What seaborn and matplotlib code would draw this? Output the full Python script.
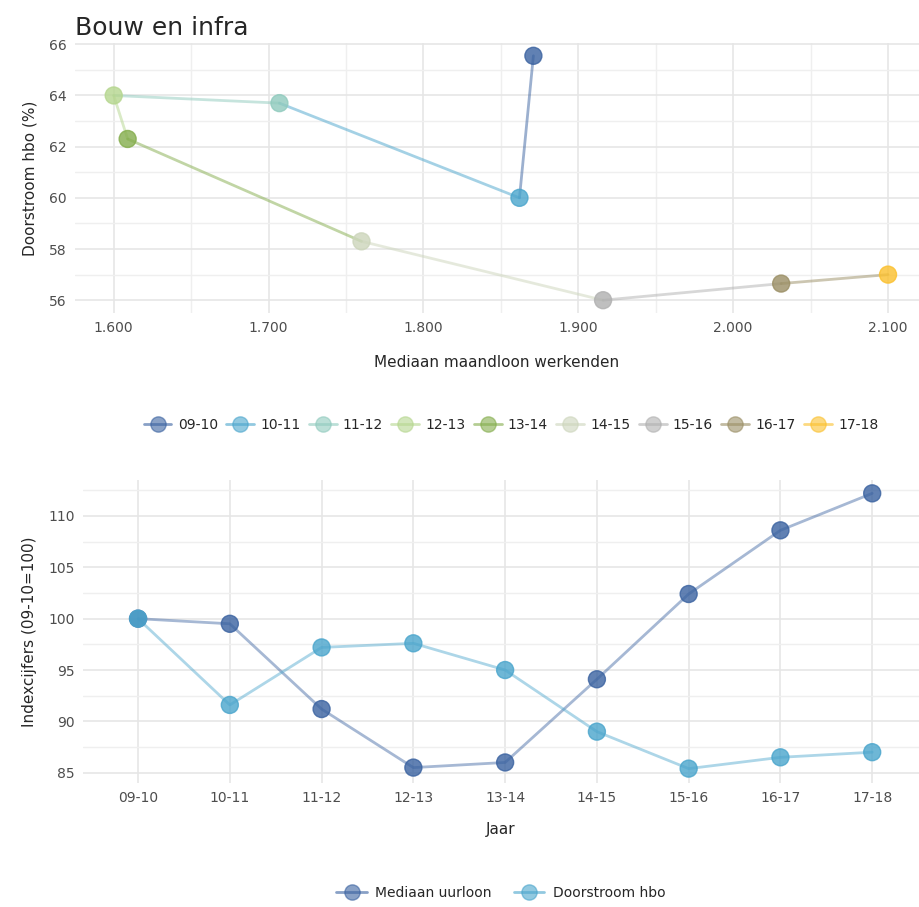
import pandas as pd
import numpy as np
import matplotlib
matplotlib.use("Agg")
import matplotlib.pyplot as plt
import seaborn as sns
from matplotlib.lines import Line2D
from matplotlib.ticker import FuncFormatter, MultipleLocator

# data
jaren = ["09-10", "10-11", "11-12", "12-13", "13-14", "14-15", "15-16", "16-17", "17-18"]
maandloon = [1871, 1862, 1707, 1600, 1609, 1760, 1916, 2031, 2100]
doorstroom = [65.55, 60.0, 63.7, 64.0, 62.3, 58.3, 56.0, 56.65, 57.0]
idx_uurloon = [100, 99.5, 91.2, 85.5, 86.0, 94.1, 102.4, 108.6, 112.2]
idx_doorstroom = [100, 91.6, 97.2, 97.6, 95.0, 89.0, 85.4, 86.5, 87.0]

kleuren = ["#3a62a0", "#4aa5cc", "#8fcabd", "#b5d68e", "#84ad4c",
           "#ccd5bb", "#b0b0b0", "#9a8e64", "#fbc02d"]
pal = dict(zip(jaren, kleuren))
reeks_kleur = {"Mediaan uurloon": "#3a62a0", "Doorstroom hbo": "#4aa5cc"}

sns.set_theme(style="whitegrid")
plt.rcParams["font.family"] = ["DejaVu Sans"]
grid = "#e6e6e6"

fig = plt.figure(figsize=(9.19, 9.07), dpi=100)
W, H = 919, 907
ax1 = fig.add_axes([75 / W, 1 - 313 / H, (919 - 75) / W, (313 - 43) / H])
ax2 = fig.add_axes([83 / W, 1 - 783 / H, (919 - 83) / W, (783 - 480) / H])

# top panel: path through the years, each piece coloured by its start year
pts = pd.DataFrame({"jaar": jaren, "loon": maandloon, "door": doorstroom})
segs = []
for i in range(len(jaren) - 1):
    segs.append({"seg": jaren[i], "loon": maandloon[i], "door": doorstroom[i]})
    segs.append({"seg": jaren[i], "loon": maandloon[i + 1], "door": doorstroom[i + 1]})
segs = pd.DataFrame(segs)

sns.lineplot(data=segs, x="loon", y="door", hue="seg", palette=pal, sort=False,
             estimator=None, lw=2, alpha=0.5, legend=False, ax=ax1)
sns.scatterplot(data=pts, x="loon", y="door", hue="jaar", palette=pal, s=150,
                alpha=0.8, edgecolor=kleuren, linewidth=1, legend=False, ax=ax1, zorder=3)
ax1.set_xlim(1575, 2120)
ax1.set_ylim(55.5, 66.05)
ax1.xaxis.set_major_locator(MultipleLocator(100))
ax1.xaxis.set_minor_locator(MultipleLocator(50))
ax1.yaxis.set_major_locator(MultipleLocator(2))
ax1.yaxis.set_minor_locator(MultipleLocator(1))
ax1.xaxis.set_major_formatter(FuncFormatter(lambda v, p: f"{v/1000:.3f}"))
ax1.set_xlabel("Mediaan maandloon werkenden", fontsize=11, labelpad=14)
ax1.set_ylabel("Doorstroom hbo (%)", fontsize=11, labelpad=8)
ax1.set_title("Bouw en infra", fontsize=18, loc="left", x=0, y=1.0, pad=6)

# bottom panel: index numbers
lang = pd.DataFrame({
    "Jaar": jaren * 2,
    "index": idx_uurloon + idx_doorstroom,
    "reeks": ["Mediaan uurloon"] * len(jaren) + ["Doorstroom hbo"] * len(jaren),
})
sns.lineplot(data=lang, x="Jaar", y="index", hue="reeks", palette=reeks_kleur,
             lw=2, alpha=0.45, legend=False, ax=ax2, sort=False)
sns.scatterplot(data=lang, x="Jaar", y="index", hue="reeks", palette=reeks_kleur,
                s=150, alpha=0.8, linewidth=1,
                edgecolor=[reeks_kleur[r] for r in lang["reeks"]],
                legend=False, ax=ax2, zorder=3)
ax2.set_xlim(-0.6, 8.51)
ax2.set_ylim(84.0, 113.5)
ax2.yaxis.set_major_locator(MultipleLocator(5))
ax2.yaxis.set_minor_locator(MultipleLocator(2.5))
ax2.set_xlabel("Jaar", fontsize=11, labelpad=12)
ax2.set_ylabel("Indexcijfers (09-10=100)", fontsize=11, labelpad=8)

for ax in (ax1, ax2):
    ax.set_facecolor("white")
    for s in ax.spines.values():
        s.set_visible(False)
    ax.grid(True, which="major", color=grid, lw=1.2)
    ax.grid(True, which="minor", color="#efefef", lw=1.0)
    ax.tick_params(which="both", length=0, labelsize=10, colors="#4d4d4d", pad=6)
    ax.set_axisbelow(True)
ax2.xaxis.grid(True, which="minor", lw=0)

# legends
h1 = [Line2D([], [], color=c, lw=2, alpha=0.6, marker="o", markersize=11,
             markerfacecolor=c, markeredgecolor=c) for c in kleuren]
fig.legend(h1, jaren, loc="center", bbox_to_anchor=(0.556, 1 - 425 / H), ncol=9,
           frameon=False, fontsize=10, handlelength=2.0, handletextpad=0.45,
           columnspacing=0.6)
h2 = [Line2D([], [], color=c, lw=2, alpha=0.6, marker="o", markersize=11,
             markerfacecolor=c, markeredgecolor=c) for c in reeks_kleur.values()]
fig.legend(h2, list(reeks_kleur.keys()), loc="center", bbox_to_anchor=(0.545, 1 - 893 / H),
           ncol=2, frameon=False, fontsize=10, handlelength=2.2, handletextpad=0.6,
           columnspacing=1.6)

fig.savefig("out.png", dpi=100, facecolor="white")
